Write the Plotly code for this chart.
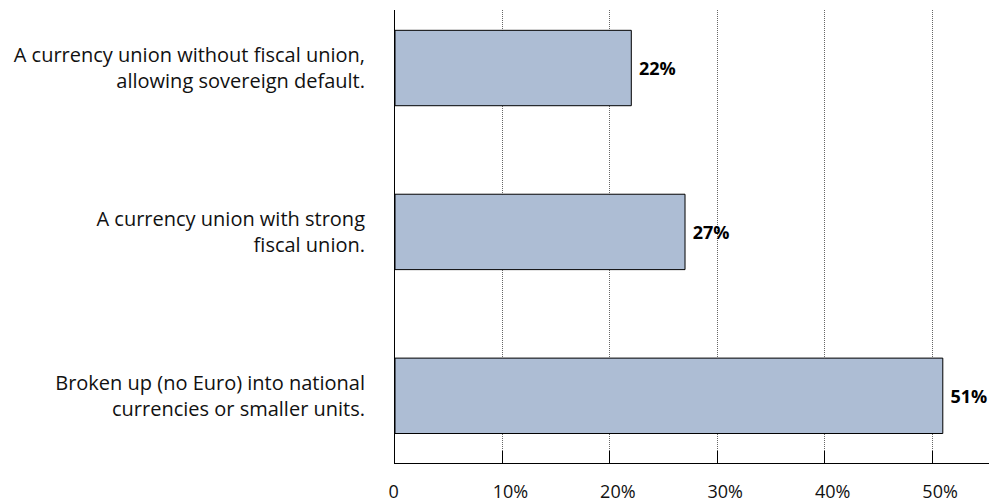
import plotly.graph_objects as go

# Survey answers (bottom to top on the chart) and their shares in percent
categories = [
    "Broken up (no Euro) into national<br>currencies or smaller units.",
    "A currency union with strong<br>fiscal union.",
    "A currency union without fiscal union,<br>allowing sovereign default.",
]
shares = [51, 27, 22]
value_labels = [f"\u00a0{v}%" for v in shares]

x_ticks = [0, 10, 20, 30, 40, 50]
# the numbers sit centred on their ticks with the % sign trailing
x_tick_labels = ["0\u00a0\u00a0\u00a0\u00a0", "10%", "20%", "30%", "40%", "50%"]

positions = list(range(len(categories)))

fig = go.Figure(
    go.Bar(
        x=shares,
        y=positions,
        orientation="h",
        width=0.46,
        marker=dict(color="#adbdd4", line=dict(color="#000000", width=1)),
        text=value_labels,
        textposition="outside",
        textfont=dict(family="Open Sans", size=18, color="#000000", weight="bold"),
        cliponaxis=False,
        hoverinfo="skip",
    )
)

fig.update_layout(
    width=989,
    height=504,
    margin=dict(l=395, r=0, t=10, b=41),
    plot_bgcolor="#ffffff",
    paper_bgcolor="#ffffff",
    showlegend=False,
    font=dict(family="Open Sans", size=16, color="#111111"),
    xaxis=dict(
        range=[0, 55.3],
        tickvals=x_ticks,
        ticktext=x_tick_labels,
        showgrid=True,
        gridcolor="#666666",
        gridwidth=1,
        griddash="1px,1px",
        showline=True,
        linecolor="#000000",
        linewidth=1,
        ticks="inside",
        ticklen=12,
        tickcolor="#000000",
        ticklabelstandoff=12,
        ticklabelshift=8,
        zeroline=False,
        tickfont=dict(size=18),
    ),
    yaxis=dict(
        range=[-0.41, 2.354],
        tickvals=positions,
        ticktext=categories,
        showgrid=False,
        showline=True,
        linecolor="#000000",
        linewidth=1,
        ticks="",
        ticklabelstandoff=25,
        zeroline=False,
        tickfont=dict(size=20),
    ),
)

fig.write_html("out.html")
